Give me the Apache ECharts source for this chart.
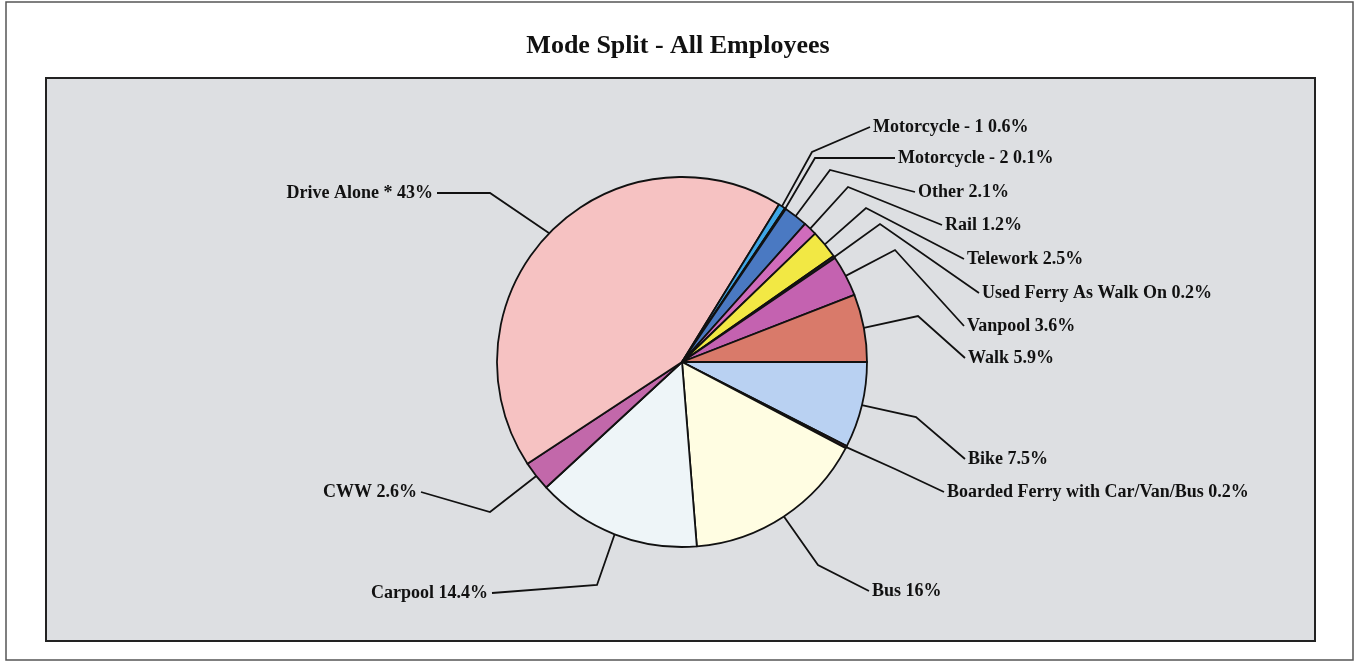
<!DOCTYPE html>
<html>
<head>
<meta charset="utf-8">
<script src="https://cdn.jsdelivr.net/npm/echarts@6/dist/echarts.min.js"></script>
<style>
html,body{margin:0;padding:0;background:#fff;}
#chart{width:1356px;height:662px;}
</style>
</head>
<body>
<div id="chart"></div>
<script>
// ---- data ----
var categories = ['Bike', 'Boarded Ferry with Car/Van/Bus', 'Bus', 'Carpool', 'CWW', 'Drive Alone *',
  'Motorcycle - 1', 'Motorcycle - 2', 'Other', 'Rail', 'Telework', 'Used Ferry As Walk On', 'Vanpool', 'Walk'];
var shares = [7.5, 0.2, 16, 14.4, 2.6, 43, 0.6, 0.1, 2.1, 1.2, 2.5, 0.2, 3.6, 5.9];
var shareLabels = ['7.5%', '0.2%', '16%', '14.4%', '2.6%', '43%', '0.6%', '0.1%', '2.1%', '1.2%', '2.5%', '0.2%', '3.6%', '5.9%'];
var title = 'Mode Split - All Employees';

// ---- styling / layout (not data) ----
var colors = ['#b9d1f2', '#5a2a30', '#fffde2', '#eef5f8', '#c268aa', '#f6c2c2',
  '#3fa6e6', '#2a3a6a', '#4a79c2', '#d06cbc', '#f2e844', '#3a2a40', '#c462b0', '#d97a6a'];
// label anchor [x, y, align] and bend point [x, y]
var labelPos = [
  [968, 459, 'left', 916, 417],
  [947, 492, 'left', 895, 469],
  [872, 591, 'left', 818, 565],
  [488, 593, 'right', 597, 585],
  [417, 492, 'right', 490, 512],
  [433, 193, 'right', 490, 193],
  [873, 127, 'left', 812, 152],
  [898, 158, 'left', 815, 158],
  [918, 192, 'left', 830, 170],
  [945, 225, 'left', 848, 187],
  [967, 259, 'left', 866, 208],
  [982, 293, 'left', 880, 224],
  [967, 326, 'left', 895, 250],
  [968, 358, 'left', 918, 316]
];

var chart = echarts.init(document.getElementById('chart'), null, {renderer: 'canvas'});
var pieData = categories.map(function (c, i) {
  return {name: c, value: shares[i], itemStyle: {color: colors[i]}};
});

chart.setOption({
  backgroundColor: '#ffffff',
  animation: false,
  title: {
    text: title,
    left: 'center',
    top: 28,
    textStyle: {fontFamily: 'Liberation Serif', fontWeight: 'bold', fontSize: 26, color: '#111'}
  },
  graphic: [
    {type: 'rect', z: -10, shape: {x: 6, y: 2, width: 1347, height: 658},
      style: {fill: '#ffffff', stroke: '#555', lineWidth: 1.5}},
    {type: 'rect', z: -9, shape: {x: 46, y: 78, width: 1269, height: 563},
      style: {fill: '#dddfe2', stroke: '#222', lineWidth: 2}}
  ],
  series: [{
    type: 'pie',
    center: [682, 362],
    radius: 185,
    startAngle: 0,
    clockwise: true,
    avoidLabelOverlap: false,
    minShowLabelAngle: 0,
    data: pieData,
    itemStyle: {borderColor: '#111', borderWidth: 1.8},
    label: {
      show: true,
      position: 'outside',
      formatter: function (p) { return p.name + ' ' + shareLabels[p.dataIndex]; },
      fontFamily: 'Liberation Serif',
      fontWeight: 'bold',
      fontSize: 18,
      color: '#111'
    },
    labelLine: {show: true, length: 20, length2: 20, lineStyle: {color: '#111', width: 1.8}},
    labelLayout: function (params) {
      var lp = labelPos[params.dataIndex];
      var start = params.labelLinePoints ? params.labelLinePoints[0] : [lp[3], lp[4]];
      var endX = lp[2] === 'left' ? lp[0] - 3 : lp[0] + 4;
      return {
        x: lp[0],
        y: lp[1],
        align: lp[2],
        verticalAlign: 'middle',
        labelLinePoints: [start, [lp[3], lp[4]], [endX, lp[1]]]
      };
    },
    emphasis: {disabled: true}
  }]
});
</script>
</body>
</html>
